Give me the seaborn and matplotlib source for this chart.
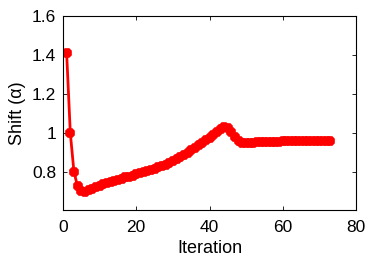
import matplotlib
matplotlib.use("Agg")
import matplotlib.pyplot as plt
import seaborn as sns
import pandas as pd

iteration = list(range(1, 74))
shift = [1.41, 1.00, 0.80, 0.726, 0.705, 0.697, 0.706, 0.714, 0.722, 0.730,
         0.737, 0.743, 0.749, 0.755, 0.761, 0.766, 0.772, 0.777, 0.782, 0.788,
         0.793, 0.799, 0.805, 0.811, 0.818, 0.824, 0.831, 0.838, 0.846, 0.855,
         0.865, 0.876, 0.887, 0.899, 0.911, 0.924, 0.937, 0.950, 0.963, 0.977,
         0.991, 1.006, 1.020, 1.031, 1.026, 1.005, 0.981, 0.961, 0.951, 0.947,
         0.949, 0.951, 0.953, 0.954, 0.955, 0.955, 0.956, 0.956, 0.956, 0.957,
         0.957, 0.957, 0.957, 0.957, 0.957, 0.957, 0.957, 0.957, 0.957, 0.957,
         0.957, 0.957, 0.957]
xticks = [0, 20, 40, 60, 80]
yticks = [0.8, 1.0, 1.2, 1.4, 1.6]
ytick_labels = ["0.8", "1", "1.2", "1.4", "1.6"]

df = pd.DataFrame({"Iteration": iteration, "Shift": shift})

sns.set_theme(style="white")
plt.rcParams["font.family"] = ["Liberation Sans", "DejaVu Sans"]

fig = plt.figure(figsize=(3.74, 2.59), dpi=100)
ax = fig.add_axes([0.1684, 0.189, 0.7836, 0.749])
sns.lineplot(data=df, x="Iteration", y="Shift", ax=ax, color="red",
             linewidth=2, marker="8", markersize=7, markeredgewidth=1.2,
             markeredgecolor="red")
ax.set_xlim(0, 80)
ax.set_ylim(0.605, 1.6)
ax.set_xticks(xticks)
ax.set_xticklabels([str(t) for t in xticks])
ax.set_yticks(yticks)
ax.set_yticklabels(ytick_labels)
ax.tick_params(direction="in", length=3, width=0.6, top=True, right=True,
               bottom=True, left=True, labelsize=12.5, colors="black", pad=5)
ax.tick_params(axis="x", pad=7)
for s in ax.spines.values():
    s.set_visible(True)
    s.set_color("black")
    s.set_linewidth(0.8)
ax.set_xlabel("Iteration", fontsize=13, color="black", labelpad=4)
ax.set_ylabel("Shift (α)", fontsize=13, color="black", labelpad=4)
fig.savefig("out.png", dpi=100)
